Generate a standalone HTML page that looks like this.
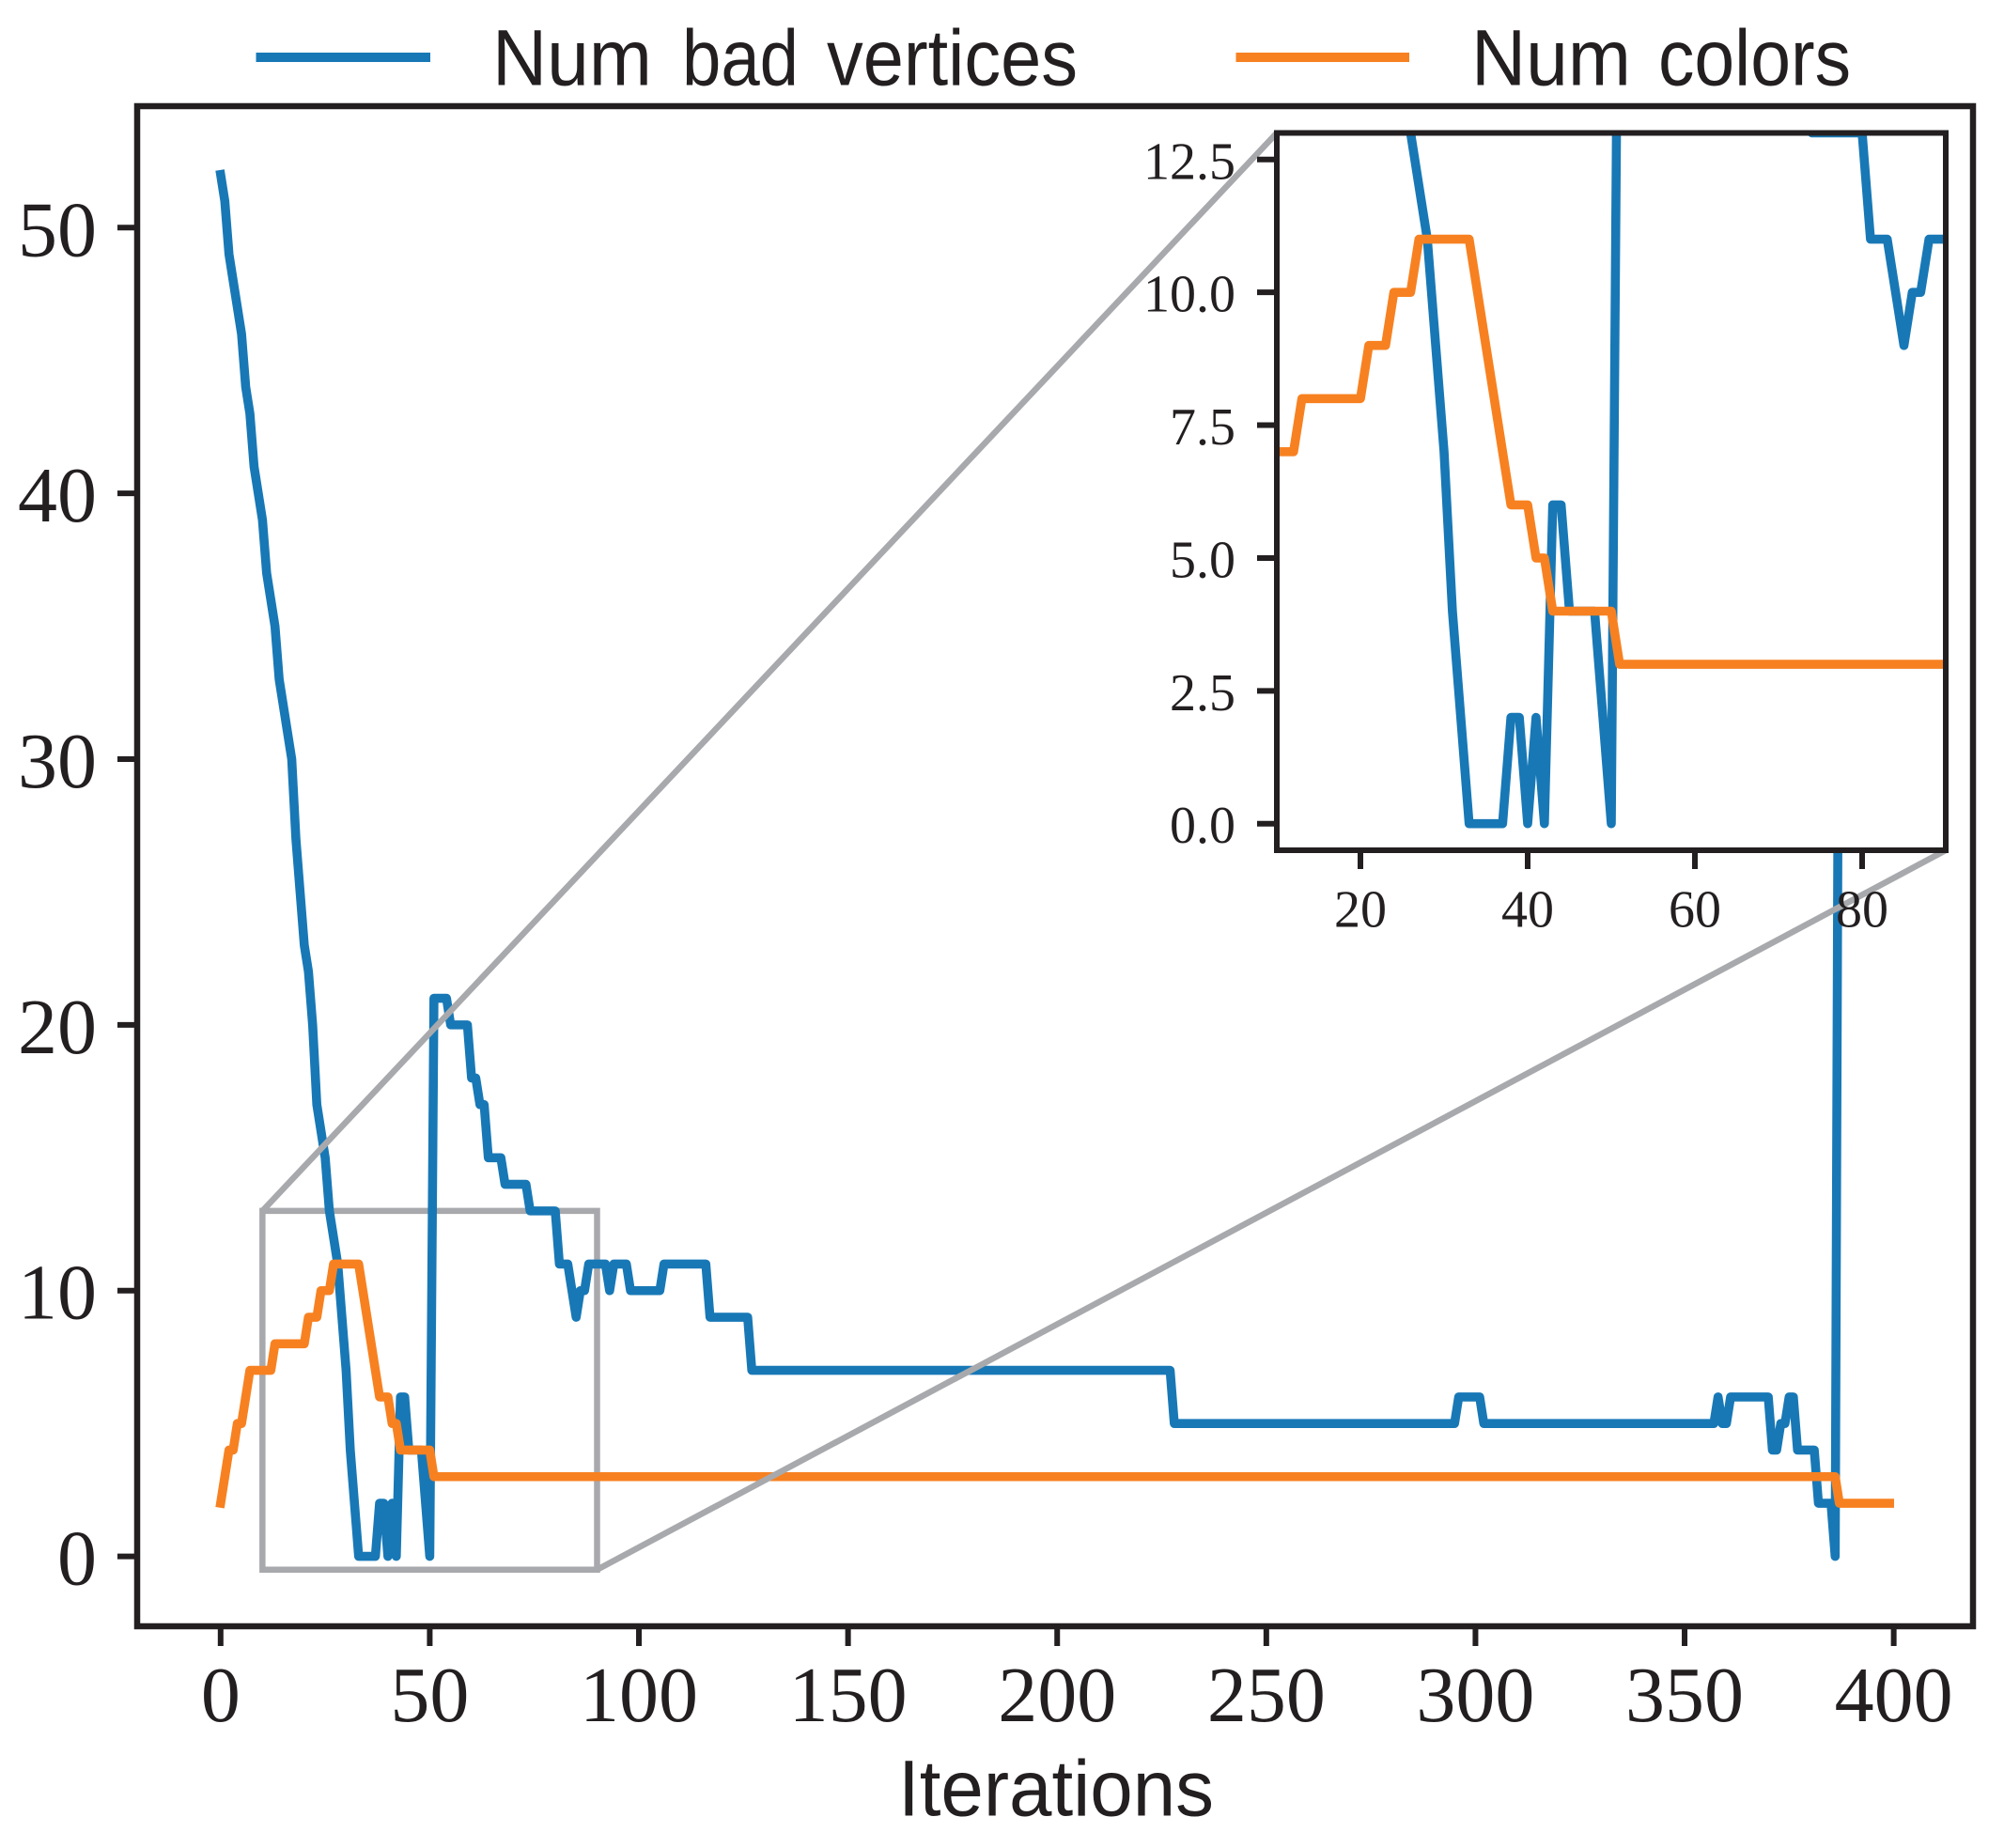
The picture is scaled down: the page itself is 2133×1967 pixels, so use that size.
<!DOCTYPE html>
<html lang="en">
<head>
<meta charset="utf-8">
<title>Num bad vertices and Num colors over iterations</title>
<style>
html,body{margin:0;padding:0;background:#fff;}
svg{display:block;}
.serif{font-family:"Liberation Serif",serif;fill:#231f20;}
.sans{font-family:"Liberation Sans",sans-serif;fill:#231f20;}
</style>
</head>
<body>
<svg id="chart" xmlns="http://www.w3.org/2000/svg" width="2133" height="1967" viewBox="0 0 2133 1967">
  <defs>
    <clipPath id="main-clip"><rect x="146" y="113" width="1954" height="1618"/></clipPath>
    <clipPath id="inset-clip"><rect x="1359" y="141.5" width="712" height="763.5"/></clipPath>
  </defs>
  <rect x="0" y="0" width="2133" height="1967" fill="#fff"/>
  <g id="main-plot"></g>
  <g id="connectors"></g>
  <g id="inset-plot"></g>
  <g id="labels"></g>
  <g>
    <rect x="272.5" y="56" width="185.5" height="10" fill="#1878b6"/>
    <g class="sans" font-size="84">
      <text class="sans" x="524" y="90.7" textLength="170" lengthAdjust="spacingAndGlyphs">Num</text>
      <text class="sans" x="726" y="90.7" textLength="124" lengthAdjust="spacingAndGlyphs">bad</text>
      <text class="sans" x="880" y="90.7" textLength="267" lengthAdjust="spacingAndGlyphs">vertices</text>
    </g>
    <rect x="1315.5" y="56" width="184.5" height="10" fill="#f78121"/>
    <g class="sans" font-size="84">
      <text class="sans" x="1566" y="90.7" textLength="170" lengthAdjust="spacingAndGlyphs">Num</text>
      <text class="sans" x="1765" y="90.7" textLength="205" lengthAdjust="spacingAndGlyphs">colors</text>
    </g>
  </g>
  <text class="sans" x="956" y="1932.7" font-size="84" textLength="336" lengthAdjust="spacingAndGlyphs">Iterations</text>
</svg>
<script>
const badVertices = [
  52,51,49,48,47,46,44,43,41,40,
  39,37,36,35,33,32,31,30,27,25,
  23,22,20,17,16,15,13,12,11,9,
  7,4,2,0,0,0,0,0,2,2,
  0,2,0,6,6,4,4,4,4,2,
  0,21,21,21,21,20,20,20,20,20,
  18,18,17,17,15,15,15,15,14,14,
  14,14,14,14,13,13,13,13,13,13,
  13,11,11,11,10,9,10,10,11,11,
  11,11,11,10,11,11,11,11,10,10,
  10,10,10,10,10,10,11,11,11,11,
  11,11,11,11,11,11,11,9,9,9,
  9,9,9,9,9,9,9,7,7,7,
  7,7,7,7,7,7,7,7,7,7,
  7,7,7,7,7,7,7,7,7,7,
  7,7,7,7,7,7,7,7,7,7,
  7,7,7,7,7,7,7,7,7,7,
  7,7,7,7,7,7,7,7,7,7,
  7,7,7,7,7,7,7,7,7,7,
  7,7,7,7,7,7,7,7,7,7,
  7,7,7,7,7,7,7,7,7,7,
  7,7,7,7,7,7,7,7,7,7,
  7,7,7,7,7,7,7,7,5,5,
  5,5,5,5,5,5,5,5,5,5,
  5,5,5,5,5,5,5,5,5,5,
  5,5,5,5,5,5,5,5,5,5,
  5,5,5,5,5,5,5,5,5,5,
  5,5,5,5,5,5,5,5,5,5,
  5,5,5,5,5,5,5,5,5,5,
  5,5,5,5,5,5,6,6,6,6,
  6,6,5,5,5,5,5,5,5,5,
  5,5,5,5,5,5,5,5,5,5,
  5,5,5,5,5,5,5,5,5,5,
  5,5,5,5,5,5,5,5,5,5,
  5,5,5,5,5,5,5,5,5,5,
  5,5,5,5,5,5,5,5,6,5,
  5,6,6,6,6,6,6,6,6,6,
  6,4,4,5,5,6,6,4,4,4,
  4,4,2,2,2,2,0,42
];
const numColors = [
  2,3,4,4,5,5,6,7,7,7,
  7,7,7,8,8,8,8,8,8,8,
  8,9,9,9,10,10,10,11,11,11,
  11,11,11,11,10,9,8,7,6,6,
  6,5,5,4,4,4,4,4,4,4,
  4,3,3,3,3,3,3,3,3,3,
  3,3,3,3,3,3,3,3,3,3,
  3,3,3,3,3,3,3,3,3,3,
  3,3,3,3,3,3,3,3,3,3,
  3,3,3,3,3,3,3,3,3,3,
  3,3,3,3,3,3,3,3,3,3,
  3,3,3,3,3,3,3,3,3,3,
  3,3,3,3,3,3,3,3,3,3,
  3,3,3,3,3,3,3,3,3,3,
  3,3,3,3,3,3,3,3,3,3,
  3,3,3,3,3,3,3,3,3,3,
  3,3,3,3,3,3,3,3,3,3,
  3,3,3,3,3,3,3,3,3,3,
  3,3,3,3,3,3,3,3,3,3,
  3,3,3,3,3,3,3,3,3,3,
  3,3,3,3,3,3,3,3,3,3,
  3,3,3,3,3,3,3,3,3,3,
  3,3,3,3,3,3,3,3,3,3,
  3,3,3,3,3,3,3,3,3,3,
  3,3,3,3,3,3,3,3,3,3,
  3,3,3,3,3,3,3,3,3,3,
  3,3,3,3,3,3,3,3,3,3,
  3,3,3,3,3,3,3,3,3,3,
  3,3,3,3,3,3,3,3,3,3,
  3,3,3,3,3,3,3,3,3,3,
  3,3,3,3,3,3,3,3,3,3,
  3,3,3,3,3,3,3,3,3,3,
  3,3,3,3,3,3,3,3,3,3,
  3,3,3,3,3,3,3,3,3,3,
  3,3,3,3,3,3,3,3,3,3,
  3,3,3,3,3,3,3,3,3,3,
  3,3,3,3,3,3,3,3,3,3,
  3,3,3,3,3,3,3,3,3,3,
  3,3,3,3,3,3,3,2,2,2,
  2,2,2,2,2,2,2,2,2,2
];
const mainXTicks = [0,50,100,150,200,250,300,350,400];
const mainYTicks = [0,10,20,30,40,50];
const insetXTicks = [20,40,60,80];
const insetYTicks = [0,2.5,5,7.5,10,12.5];
const insetYLabels = ['0.0','2.5','5.0','7.5','10.0','12.5'];
const insetXRange = [10,90];
const insetYRange = [-0.5,13];

const NS = 'http://www.w3.org/2000/svg';
const INK = '#231f20';
const GRAY = '#a8a9ac';
const BLUE = '#1878b6';
const ORANGE = '#f78121';

function linear(d0,d1,r0,r1){
  return function(v){ return r0 + (v-d0)*(r1-r0)/(d1-d0); };
}
const mx = linear(-19.95,418.95,146,2100);
const my = linear(-2.63,54.57,1731,113);
const ix = linear(insetXRange[0],insetXRange[1],1359,2071);
const iy = linear(insetYRange[0],insetYRange[1],905,141.5);

function make(tag,attrs,parent,text){
  const el = document.createElementNS(NS,tag);
  for(const k in attrs){ el.setAttribute(k,attrs[k]); }
  if(text!==undefined){ el.textContent = text; }
  parent.appendChild(el);
  return el;
}
function pathFor(values,sx,sy){
  return values.map(function(v,i){ return (i===0?'M':'L')+sx(i).toFixed(2)+' '+sy(v).toFixed(2); }).join('');
}
function seriesPath(values,sx,sy,color,clip,parent){
  return make('path',{d:pathFor(values,sx,sy),fill:'none',stroke:color,'stroke-width':9.6,'stroke-linejoin':'round','stroke-linecap':'square','clip-path':'url(#'+clip+')'},parent);
}

const mainG = document.getElementById('main-plot');
const connG = document.getElementById('connectors');
const insetG = document.getElementById('inset-plot');
const labelG = document.getElementById('labels');

/* zoom indicator rectangle */
const zx0 = mx(insetXRange[0]), zx1 = mx(insetXRange[1]);
const zy0 = my(insetYRange[0]), zy1 = my(insetYRange[1]);
const zoomBox = make('rect',{x:zx0,y:zy1,width:zx1-zx0,height:zy0-zy1,fill:'none',stroke:GRAY,'stroke-width':6.5},mainG);



/* main series */
const mainBlue = seriesPath(badVertices,mx,my,BLUE,'main-clip',mainG);


const mainOrange = seriesPath(numColors,mx,my,ORANGE,'main-clip',mainG);



/* main spines */
const mainFrame = make('rect',{x:146,y:113,width:1954,height:1618,fill:'none',stroke:INK,'stroke-width':6.5},mainG);



/* main ticks */
mainXTicks.forEach(function(t){
  const x = mx(t);
  const tick = make('line',{x1:x,x2:x,y1:1731,y2:1752,stroke:INK,'stroke-width':6},mainG);
  
  
  const label = make('text',{x:x,y:1832,'text-anchor':'middle','font-size':84,class:'serif'},labelG,String(t));
  
  
});
mainYTicks.forEach(function(t){
  const y = my(t);
  const tick = make('line',{x1:125,x2:146,y1:y,y2:y,stroke:INK,'stroke-width':6},mainG);
  
  
  const label = make('text',{x:103,y:y+30,'text-anchor':'end','font-size':84,class:'serif'},labelG,String(t));
  
  
});

/* connectors from zoom box to inset */
const connA = make('line',{x1:zx0,y1:zy1,x2:ix(insetXRange[0]),y2:iy(insetYRange[1]),stroke:GRAY,'stroke-width':6.5},connG);


const connB = make('line',{x1:zx1,y1:zy0,x2:ix(insetXRange[1]),y2:iy(insetYRange[0]),stroke:GRAY,'stroke-width':6.5},connG);



/* inset */
const insetBg = make('rect',{x:1359,y:141.5,width:712,height:763.5,fill:'#fff'},insetG);


const insetBlue = seriesPath(badVertices,ix,iy,BLUE,'inset-clip',insetG);


const insetOrange = seriesPath(numColors,ix,iy,ORANGE,'inset-clip',insetG);


const insetFrame = make('rect',{x:1359,y:141.5,width:712,height:763.5,fill:'none',stroke:INK,'stroke-width':6},insetG);



insetXTicks.forEach(function(t){
  const x = ix(t);
  const tick = make('line',{x1:x,x2:x,y1:905,y2:925,stroke:INK,'stroke-width':6},insetG);
  
  
  const label = make('text',{x:x,y:986.5,'text-anchor':'middle','font-size':56,class:'serif'},labelG,String(t));
  
  
});
insetYTicks.forEach(function(t,i){
  const y = iy(t);
  const tick = make('line',{x1:1338,x2:1359,y1:y,y2:y,stroke:INK,'stroke-width':6},insetG);
  
  
  const label = make('text',{x:1315,y:y+20.5,'text-anchor':'end','font-size':56,class:'serif'},labelG,insetYLabels[i]);
  
  
});
</script>
</body>
</html>
